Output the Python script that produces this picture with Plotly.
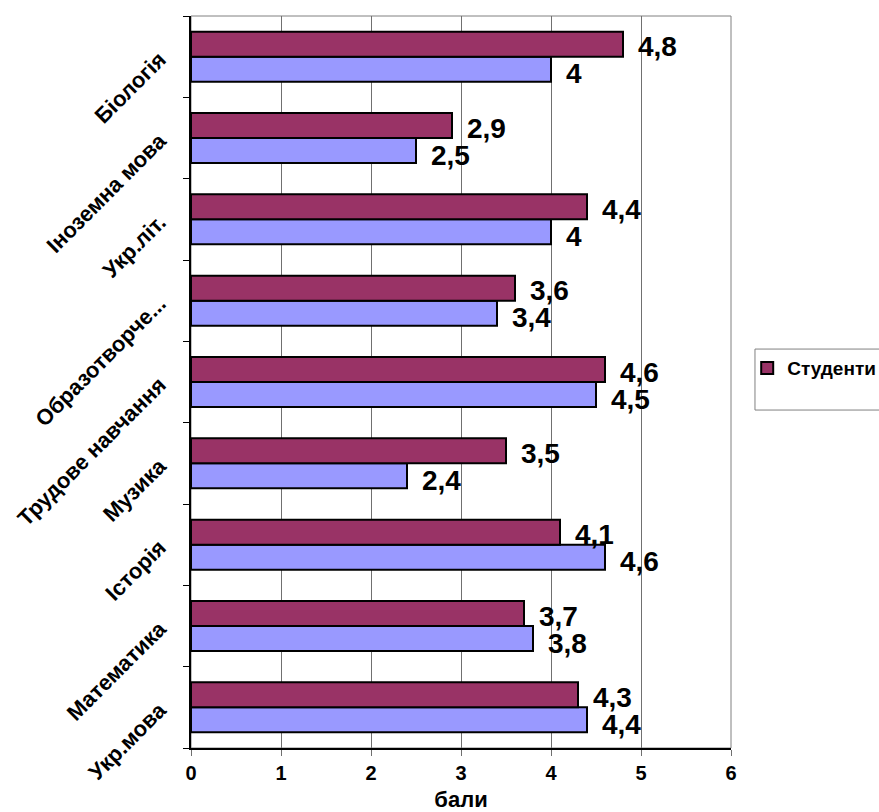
import plotly.graph_objects as go

categories = ["Укр.мова", "Математика", "Історія", "Музика", "Трудове навчання",
              "Образотворче...", "Укр.літ.", "Іноземна мова", "Біологія"]
students = [4.3, 3.7, 4.1, 3.5, 4.6, 3.6, 4.4, 2.9, 4.8]
pupils = [4.4, 3.8, 4.6, 2.4, 4.5, 3.4, 4.0, 2.5, 4.0]
x_ticks = [0, 1, 2, 3, 4, 5, 6]

MAROON = "#993366"
BLUE = "#9999FF"
FONT = "Arial, Liberation Sans, sans-serif"


def fmt(v):
    return f"{v:g}".replace(".", ",")


fig = go.Figure()
fig.add_trace(go.Bar(
    y=categories, x=pupils, orientation="h", name="Учні",
    marker=dict(color=BLUE, line=dict(color="black", width=2)),
    showlegend=False,
))
fig.add_trace(go.Bar(
    y=categories, x=students, orientation="h", name="<b>Студенти</b>",
    marker=dict(color=MAROON, line=dict(color="black", width=2)),
))

annotations = []
for c, v in zip(categories, students):
    annotations.append(dict(x=v, y=c, xref="x", yref="y", text="<b>" + fmt(v) + "</b>",
                            showarrow=False, xanchor="left", yanchor="middle",
                            xshift=13, yshift=10,
                            font=dict(size=28, color="black", family=FONT)))
for c, v in zip(categories, pupils):
    annotations.append(dict(x=v, y=c, xref="x", yref="y", text="<b>" + fmt(v) + "</b>",
                            showarrow=False, xanchor="left", yanchor="middle",
                            xshift=13, yshift=-17,
                            font=dict(size=28, color="black", family=FONT)))

fig.update_layout(
    width=879, height=812,
    margin=dict(l=191, r=148, t=16, b=64, autoexpand=False),
    paper_bgcolor="white", plot_bgcolor="white",
    barmode="group", bargap=0.385, bargroupgap=0,
    font=dict(family=FONT, color="black"),
    annotations=annotations,
    showlegend=True,
    legend=dict(x=1.03, y=0.545, xanchor="left", yanchor="top",
                font=dict(size=19, family=FONT, color="black"),
                bgcolor="rgba(0,0,0,0)", borderwidth=0,
                itemsizing="constant", itemwidth=30),
    shapes=[
        dict(type="rect", xref="paper", yref="paper", x0=0, x1=1, y0=0, y1=1,
             line=dict(color="#808080", width=1), layer="below"),
        dict(type="rect", xref="paper", yref="paper", x0=1.0444, x1=1.3, y0=0.4617, y1=0.545,
             line=dict(color="#808080", width=1), fillcolor="rgba(0,0,0,0)"),
    ],
    xaxis=dict(
        range=[0, 6], tickvals=x_ticks, ticktext=[f"<b>{t}</b>" for t in x_ticks],
        showgrid=True, gridcolor="#707070", gridwidth=1,
        zeroline=False, showline=True, linecolor="black", linewidth=2,
        ticks="outside", ticklen=6, tickcolor="#707070",
        tickfont=dict(size=20, family=FONT, color="black"),
        title=dict(text="<b>бали</b>", font=dict(size=22, family=FONT, color="black"), standoff=9),
        automargin=False, fixedrange=True,
    ),
    yaxis=dict(
        type="category", categoryorder="array", categoryarray=categories,
        tickvals=categories, ticktext=[f"<b>{c}</b>" for c in categories],
        tickangle=-45, tickson="boundaries", ticklabelstandoff=25,
        showline=True, linecolor="black", linewidth=2,
        ticks="outside", ticklen=6, tickcolor="black",
        tickfont=dict(size=22, family=FONT, color="black"),
        showgrid=False, zeroline=False, automargin=False, fixedrange=True,
    ),
)

fig.write_html("out.html", config={"displayModeBar": False},
               post_script="document.body.style.margin='0';document.body.style.overflow='hidden';")
